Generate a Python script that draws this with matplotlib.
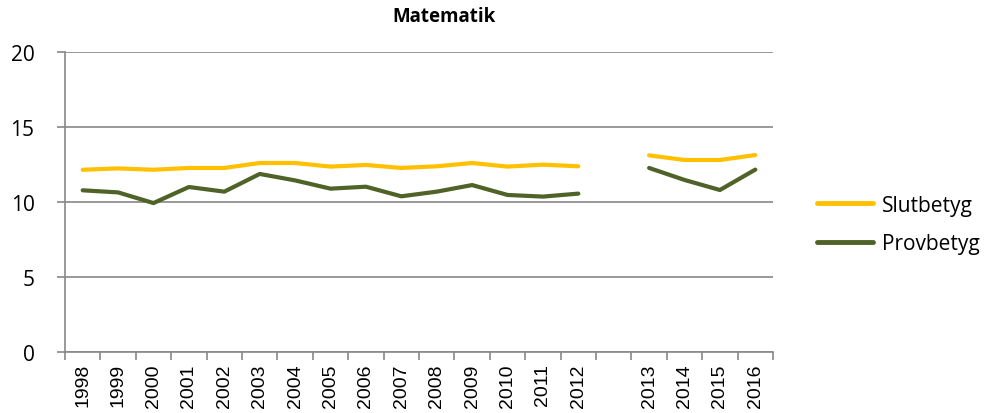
import numpy as np
import matplotlib
matplotlib.use("Agg")
import matplotlib.pyplot as plt

# categories (empty slot between 2012 and 2013 as in the original)
years = ['1998', '1999', '2000', '2001', '2002', '2003', '2004', '2005', '2006',
         '2007', '2008', '2009', '2010', '2011', '2012', '',
         '2013', '2014', '2015', '2016']
slutbetyg = [12.15, 12.24, 12.15, 12.27, 12.27, 12.6, 12.6, 12.36, 12.47,
             12.27, 12.38, 12.6, 12.36, 12.49, 12.38, np.nan,
             13.11, 12.8, 12.8, 13.13]
provbetyg = [10.78, 10.64, 9.93, 11.0, 10.69, 11.87, 11.44, 10.89, 11.02,
             10.38, 10.69, 11.13, 10.47, 10.36, 10.56, np.nan,
             12.27, 11.47, 10.8, 12.16]

fig = plt.figure(figsize=(10.03, 4.14), dpi=100)
ax = fig.add_axes([0.0648, 0.1473, 0.7059, 0.7247])

x = np.arange(len(years))
ax.plot(x, slutbetyg, color='#FFC000', lw=3, label='Slutbetyg', solid_capstyle='round')
ax.plot(x, provbetyg, color='#4F6228', lw=3, label='Provbetyg', solid_capstyle='round')

ax.set_xlim(-0.5, len(years) - 0.5)
ax.set_ylim(0, 20)
ax.set_yticks([0, 5, 10, 15, 20])
ax.grid(axis='y', color='#888888', lw=1.2)
ax.set_axisbelow(True)

# category labels centred, tick marks between categories
ax.set_xticks(x)
ax.set_xticklabels(years, rotation=90, fontsize=14, family='Liberation Sans')
ax.set_xticks(np.arange(len(years) + 1) - 0.5, minor=True)
ax.tick_params(axis='x', which='major', length=0, pad=8)
ax.tick_params(axis='x', which='minor', length=6, color='#888888', width=1.2)
ax.tick_params(axis='y', length=6, color='#888888', width=1.2, pad=16, labelsize=15)
for lbl in ax.get_yticklabels():
    lbl.set_family('Open Sans')

for s in ['top', 'right']:
    ax.spines[s].set_visible(False)
for s in ['left', 'bottom']:
    ax.spines[s].set_color('#888888')
    ax.spines[s].set_linewidth(1.2)

fig.text(0.443, 0.96, 'Matematik', ha='center', va='center',
         fontsize=13.5, fontweight='bold', family='Open Sans')

leg = ax.legend(loc='center left', bbox_to_anchor=(1.035, 0.425), frameon=False,
                handlelength=2.7, labelspacing=0.85, handletextpad=0.45,
                prop={'family': 'Open Sans', 'size': 15})
for h in leg.get_lines():
    h.set_linewidth(3.5)

fig.savefig('out.png', dpi=100)
